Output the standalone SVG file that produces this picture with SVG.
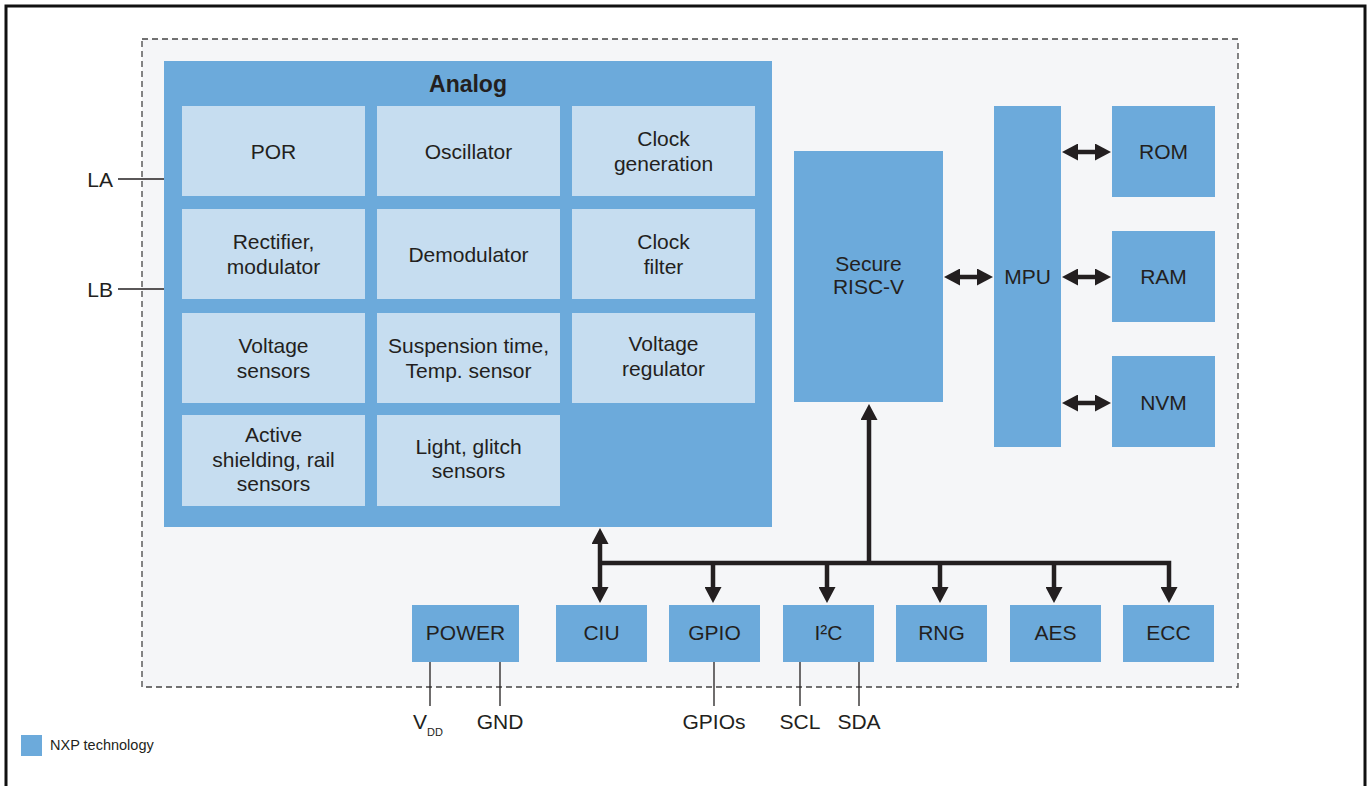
<svg xmlns="http://www.w3.org/2000/svg" width="1369" height="786" viewBox="0 0 1369 786">
<defs>
<style>
.t{font-family:"Liberation Sans",Arial,sans-serif;font-size:21px;fill:#231f20;text-anchor:middle}
.b{fill:#6caadb}
.c{fill:#c6ddf0}
.pin{stroke:#231f20;stroke-width:1.3;fill:none}
.bus{stroke:#231f20;stroke-width:4.5;fill:none}
</style>
<marker id="ah" viewBox="0 0 16 17" refX="6" refY="8.5" markerWidth="16" markerHeight="17" orient="auto-start-reverse" markerUnits="userSpaceOnUse">
<path d="M0,0 L16,8.5 L0,17 Z" fill="#231f20"/>
</marker>
</defs>
<rect x="0" y="0" width="1369" height="786" fill="#ffffff"/>
<rect x="6" y="6" width="1359" height="800" fill="none" stroke="#111" stroke-width="3"/>
<rect x="142" y="39" width="1096" height="648" fill="#f5f6f8" stroke="#444" stroke-width="1.3" stroke-dasharray="6,4"/>

<g id="analog">
<rect class="b" x="164" y="61" width="608" height="466"/>
<text class="t" x="468" y="92" style="font-weight:bold;font-size:23px">Analog</text>
</g>
<g id="por"><rect class="c" x="182" y="106" width="183" height="90"/><text class="t" x="273.5" y="159">POR</text></g>
<g id="oscillator"><rect class="c" x="377" y="106" width="183" height="90"/><text class="t" x="468.5" y="159">Oscillator</text></g>
<g id="clockgen"><rect class="c" x="572" y="106" width="183" height="90"/><text class="t" x="663.5" y="146">Clock</text><text class="t" x="663.5" y="171">generation</text></g>
<g id="rectifier"><rect class="c" x="182" y="209" width="183" height="90"/><text class="t" x="273.5" y="249">Rectifier,</text><text class="t" x="273.5" y="274">modulator</text></g>
<g id="demodulator"><rect class="c" x="377" y="209" width="183" height="90"/><text class="t" x="468.5" y="262">Demodulator</text></g>
<g id="clockfilter"><rect class="c" x="572" y="209" width="183" height="90"/><text class="t" x="663.5" y="249">Clock</text><text class="t" x="663.5" y="274">filter</text></g>
<g id="voltsensors"><rect class="c" x="182" y="313" width="183" height="90"/><text class="t" x="273.5" y="353">Voltage</text><text class="t" x="273.5" y="378">sensors</text></g>
<g id="suspension"><rect class="c" x="377" y="313" width="183" height="90"/><text class="t" x="468.5" y="353">Suspension time,</text><text class="t" x="468.5" y="378">Temp. sensor</text></g>
<g id="voltreg"><rect class="c" x="572" y="313" width="183" height="90"/><text class="t" x="663.5" y="351">Voltage</text><text class="t" x="663.5" y="376">regulator</text></g>
<g id="shielding"><rect class="c" x="182" y="415" width="183" height="91"/><text class="t" x="273.5" y="442">Active</text><text class="t" x="273.5" y="467">shielding, rail</text><text class="t" x="273.5" y="491">sensors</text></g>
<g id="light"><rect class="c" x="377" y="415" width="183" height="91"/><text class="t" x="468.5" y="454">Light, glitch</text><text class="t" x="468.5" y="478">sensors</text></g>

<g id="risc"><rect class="b" x="794" y="151" width="149" height="251"/><text class="t" x="868.5" y="271">Secure</text><text class="t" x="868.5" y="294">RISC-V</text></g>
<g id="mpu"><rect class="b" x="994" y="106" width="67" height="341"/><text class="t" x="1027.5" y="284">MPU</text></g>
<g id="rom"><rect class="b" x="1112" y="106" width="103" height="91"/><text class="t" x="1163.5" y="159">ROM</text></g>
<g id="ram"><rect class="b" x="1112" y="231" width="103" height="91"/><text class="t" x="1163.5" y="284">RAM</text></g>
<g id="nvm"><rect class="b" x="1112" y="356" width="103" height="91"/><text class="t" x="1163.5" y="410">NVM</text></g>

<g id="power"><rect class="b" x="412" y="605" width="107" height="57"/><text class="t" x="465.5" y="640">POWER</text></g>
<g id="ciu"><rect class="b" x="556" y="605" width="91" height="57"/><text class="t" x="601.5" y="640">CIU</text></g>
<g id="gpio"><rect class="b" x="669" y="605" width="91" height="57"/><text class="t" x="714.5" y="640">GPIO</text></g>
<g id="i2c"><rect class="b" x="783" y="605" width="91" height="57"/><text class="t" x="828.5" y="640">I²C</text></g>
<g id="rng"><rect class="b" x="896" y="605" width="91" height="57"/><text class="t" x="941.5" y="640">RNG</text></g>
<g id="aes"><rect class="b" x="1010" y="605" width="91" height="57"/><text class="t" x="1055.5" y="640">AES</text></g>
<g id="ecc"><rect class="b" x="1123" y="605" width="91" height="57"/><text class="t" x="1168.5" y="640">ECC</text></g>

<g id="connectors">
<line class="bus" x1="954" y1="277" x2="983" y2="277" marker-start="url(#ah)" marker-end="url(#ah)"/>
<line class="bus" x1="1072" y1="152" x2="1101" y2="152" marker-start="url(#ah)" marker-end="url(#ah)"/>
<line class="bus" x1="1072" y1="277" x2="1101" y2="277" marker-start="url(#ah)" marker-end="url(#ah)"/>
<line class="bus" x1="1072" y1="403" x2="1101" y2="403" marker-start="url(#ah)" marker-end="url(#ah)"/>
<line class="bus" x1="869" y1="565" x2="869" y2="414" marker-end="url(#ah)"/>
<line class="bus" x1="600" y1="538" x2="600" y2="593" marker-start="url(#ah)" marker-end="url(#ah)"/>
<path class="bus" d="M598,563 H1169 V593" marker-end="url(#ah)"/>
<line class="bus" x1="713" y1="563" x2="713" y2="593" marker-end="url(#ah)"/>
<line class="bus" x1="827" y1="563" x2="827" y2="593" marker-end="url(#ah)"/>
<line class="bus" x1="940" y1="563" x2="940" y2="593" marker-end="url(#ah)"/>
<line class="bus" x1="1054" y1="563" x2="1054" y2="593" marker-end="url(#ah)"/>
<line class="pin" x1="118" y1="179" x2="164" y2="179"/>
<line class="pin" x1="118" y1="289" x2="164" y2="289"/>
<line class="pin" x1="430" y1="662" x2="430" y2="706"/>
<line class="pin" x1="500" y1="662" x2="500" y2="706"/>
<line class="pin" x1="714" y1="662" x2="714" y2="706"/>
<line class="pin" x1="800" y1="662" x2="800" y2="706"/>
<line class="pin" x1="859" y1="662" x2="859" y2="706"/>
</g>

<g id="labels">
<text class="t" x="113" y="187" style="text-anchor:end">LA</text>
<text class="t" x="113" y="297" style="text-anchor:end">LB</text>
<text class="t" x="413" y="729" style="text-anchor:start">V<tspan dy="7" style="font-size:11px">DD</tspan></text>
<text class="t" x="500" y="729">GND</text>
<text class="t" x="714" y="729">GPIOs</text>
<text class="t" x="800" y="729">SCL</text>
<text class="t" x="859" y="729">SDA</text>
</g>

<g id="legend">
<rect class="b" x="21" y="735" width="21" height="21"/>
<text x="50" y="750" style="font-family:'Liberation Sans',Arial,sans-serif;font-size:14.5px;fill:#231f20">NXP technology</text>
</g>
</svg>
